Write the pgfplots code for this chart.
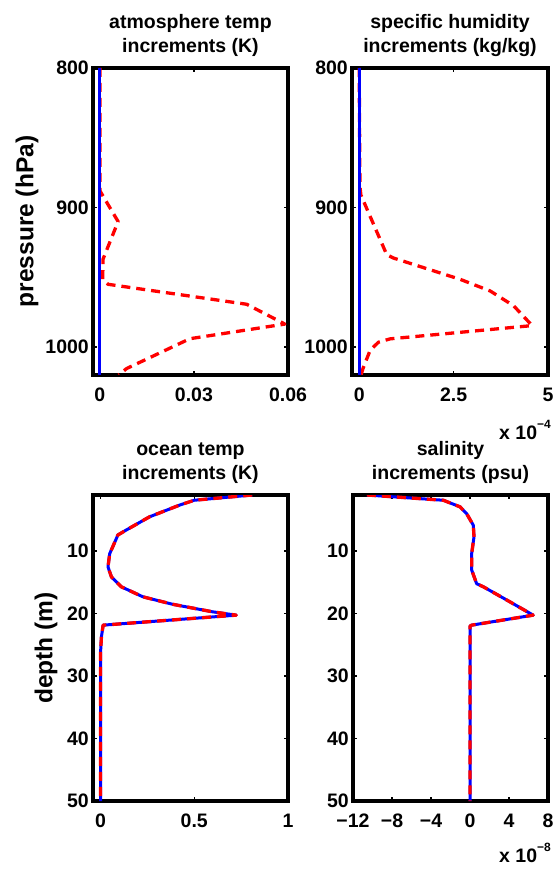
\documentclass[border=0pt]{standalone}
\usepackage{fontspec}
\setmainfont{Liberation Sans}
\usepackage{pgfplots}
\pgfplotsset{compat=1.18}

\pgfplotsset{
  prof/.style={
    scale only axis, width=195pt, height=307pt, y dir=reverse,
    clip=true, clip mode=individual,
    scaled x ticks=false, scaled y ticks=false,
    axis line style={line width=3.5pt, line cap=rect},
    tick align=inside, major tick length=4pt,
    every tick/.style={line width=1.5pt, black},
    ticklabel style={font=\bfseries\fontsize{19.5}{22}\selectfont},
    xticklabel style={anchor=north, inner sep=0pt, yshift=-13pt},
    yticklabel style={anchor=east, inner sep=0pt, xshift=-4pt},
    title style={font=\bfseries\fontsize{19.5}{24}\selectfont, align=center,
      at={(0.5,1)}, anchor=south, inner sep=0pt, yshift=5pt},
  },
  ylab/.style={every axis y label/.style={at={(axis description cs:0,0.5)},
    xshift=#1, rotate=90, anchor=center,
    font=\bfseries\fontsize{24.5}{28}\selectfont}},
  bl/.style={blue, line width=3pt, line join=round},
  rd/.style={red, line width=3.3pt, line join=round, dash pattern=on 9pt off 6pt},
}
\tikzset{sclab/.style={anchor=base east, inner sep=0pt,
    font=\bfseries\fontsize{19.5}{22}\selectfont}}

\begin{document}
\begin{tikzpicture}
\path[use as bounding box] (0,0) rectangle (557pt,870pt);

% atmosphere temperature
\begin{axis}[prof, ylab=-66pt, at={(93pt,495pt)}, anchor=south west,
  xmin=-0.0022, xmax=0.06, ymin=800, ymax=1020,
  xtick={0,0.03,0.06}, xticklabels={0,0.03,0.06},
  ytick={800,900,1000}, yticklabels={800,900,1000},
  title={atmosphere temp\\increments (K)}, ylabel={pressure (hPa)}]
\addplot[rd] coordinates {
  (0,800) (0,888) (0.0058,910) (0.0010,937) (0.0009,951.5) (0.0026,955)
  (0.0468,969.3) (0.0590,983.5) (0.0287,994) (0.0085,1015.4) (0.0060,1020)};
\addplot[bl] coordinates {(0,800) (0,1020)};
\end{axis}

% specific humidity (units of 1e-4)
\begin{axis}[prof, at={(352pt,495pt)}, anchor=south west, width=196pt,
  xmin=-0.19, xmax=5, ymin=800, ymax=1020,
  xtick={0,2.5,5}, xticklabels={0,2.5,5},
  ytick={800,900,1000}, yticklabels={800,900,1000},
  title={specific humidity\\increments (kg/kg)}]
\addplot[rd] coordinates {
  (0,800) (0.02,885) (0.045,891) (0.73,933.8) (0.91,936.2) (2.68,951.5)
  (3.47,959.8) (4.09,970.4) (4.58,984.6) (0.82,994.1) (0.51,996.5)
  (0.29,1002.3) (0.10,1015.4) (0.05,1020)};
\addplot[bl] coordinates {(0,800) (0,1020)};
\node[sclab] at (rel axis cs:1,0) [xshift=3pt, yshift=-65pt]
  {x 10\raisebox{11pt}{\fontsize{12}{12}\selectfont −4}};
\end{axis}

% ocean temperature
\begin{axis}[prof, ylab=-47pt, at={(93pt,69pt)}, anchor=south west, height=306pt,
  xmin=-0.04, xmax=1, ymin=1, ymax=50,
  xtick={0,0.5,1}, xticklabels={0,0.5,1},
  ytick={10,20,30,40,50}, yticklabels={10,20,30,40,50},
  title={ocean temp\\increments (K)}, ylabel={depth (m)}]
\addplot[bl] coordinates {
  (0.809,1) (0.5,1.84) (0.42,2.64) (0.261,4.5) (0.138,6.6) (0.093,7.4)
  (0.049,10.4) (0.040,12.5) (0.058,14.1) (0.111,15.7) (0.226,17.3)
  (0.385,18.5) (0.597,19.7) (0.724,20.24) (0.014,21.84) (0.005,23.7)
  (0,26.4) (0,50)};
\addplot[rd] coordinates {
  (0.809,1) (0.5,1.84) (0.42,2.64) (0.261,4.5) (0.138,6.6) (0.093,7.4)
  (0.049,10.4) (0.040,12.5) (0.058,14.1) (0.111,15.7) (0.226,17.3)
  (0.385,18.5) (0.597,19.7) (0.724,20.24) (0.014,21.84) (0.005,23.7)
  (0,26.4) (0,50)};
\end{axis}

% salinity (units of 1e-8)
\begin{axis}[prof, at={(353pt,69pt)}, anchor=south west, height=306pt,
  xmin=-12, xmax=8, ymin=1, ymax=50,
  xtick={-12,-8,-4,0,4,8}, xticklabels={−12,−8,−4,0,4,8},
  ytick={10,20,30,40,50}, yticklabels={10,20,30,40,50},
  title={salinity\\increments (psu)}]
\addplot[bl] coordinates {
  (-10.57,1) (-2.73,1.84) (-1.02,2.9) (-0.34,4.0) (0.34,5.84) (0.41,7.7)
  (0.17,10.4) (0.17,13.0) (0.68,15.2) (1.37,15.7) (3.75,17.8) (6.48,20.24)
  (0.17,21.84) (0,22) (0,50)};
\addplot[rd] coordinates {
  (-10.57,1) (-2.73,1.84) (-1.02,2.9) (-0.34,4.0) (0.34,5.84) (0.41,7.7)
  (0.17,10.4) (0.17,13.0) (0.68,15.2) (1.37,15.7) (3.75,17.8) (6.48,20.24)
  (0.17,21.84) (0,22) (0,50)};
\node[sclab] at (rel axis cs:1,0) [xshift=3pt, yshift=-61pt]
  {x 10\raisebox{11pt}{\fontsize{12}{12}\selectfont −8}};
\end{axis}
\end{tikzpicture}
\end{document}
